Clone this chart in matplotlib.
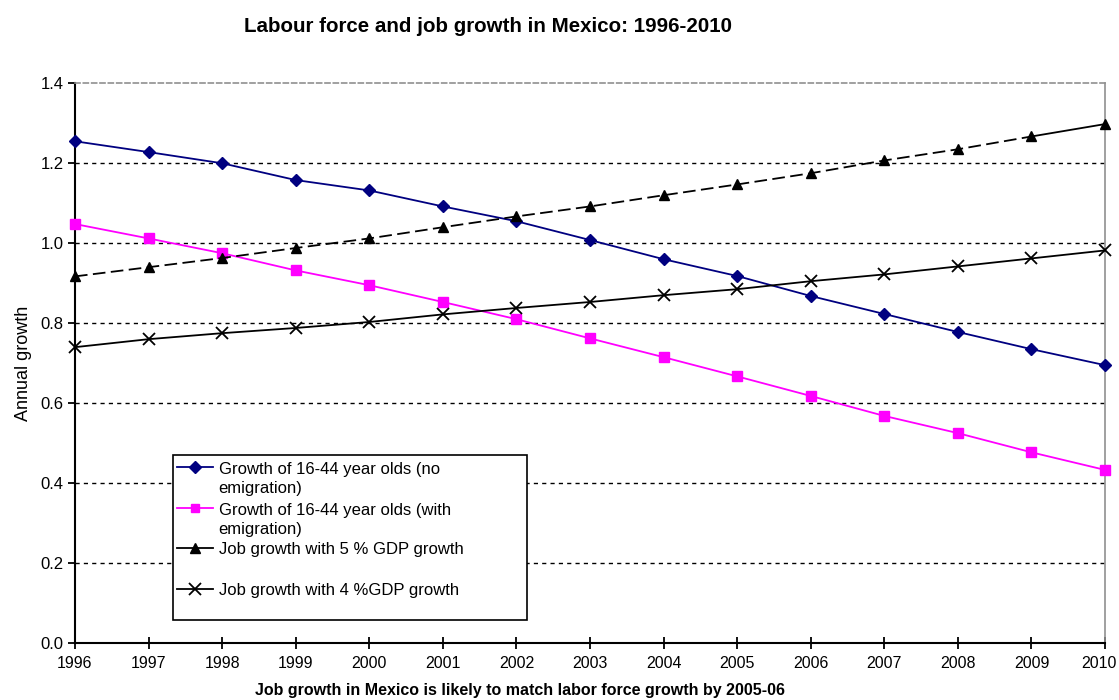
import matplotlib.pyplot as plt
import matplotlib.transforms as mtransforms
from matplotlib.lines import Line2D
from matplotlib.patches import Rectangle

plt.rcParams['font.family'] = ['Liberation Sans', 'DejaVu Sans']

years = list(range(1996, 2011))

# Growth of 16-44 year olds (no emigration)
no_emig = [1.255, 1.228, 1.200, 1.158, 1.132, 1.092, 1.055, 1.008,
           0.960, 0.918, 0.868, 0.823, 0.778, 0.735, 0.695]
# Growth of 16-44 year olds (with emigration)
with_emig = [1.048, 1.012, 0.975, 0.932, 0.895, 0.853, 0.810, 0.762,
             0.715, 0.667, 0.618, 0.568, 0.525, 0.477, 0.433]
# Job growth with 5 % GDP growth
gdp5 = [0.917, 0.940, 0.963, 0.988, 1.012, 1.040, 1.067, 1.092,
        1.120, 1.147, 1.175, 1.207, 1.235, 1.267, 1.298]
# Job growth with 4 % GDP growth
gdp4 = [0.740, 0.760, 0.775, 0.788, 0.803, 0.822, 0.838, 0.853,
        0.870, 0.885, 0.905, 0.922, 0.942, 0.962, 0.982]

labels = ["Growth of 16-44 year olds (no\nemigration)",
          "Growth of 16-44 year olds (with\nemigration)",
          "Job growth with 5 % GDP growth",
          "Job growth with 4 %GDP growth"]

navy = "#000080"
magenta = "#FF00FF"

fig = plt.figure(figsize=(11.19, 7), dpi=100)
ax = fig.add_axes([0.067, 0.0814, 0.9205, 0.7996])

for y in [0.2, 0.4, 0.6, 0.8, 1.0, 1.2]:
    ax.axhline(y, color="black", lw=1, ls=(0, (3, 3)), zorder=1)

ax.plot(years, no_emig, color=navy, lw=1.3, marker="D", ms=6.5, zorder=3,
        clip_on=False)
ax.plot(years, with_emig, color=magenta, lw=1.3, marker="s", ms=6.5, zorder=3,
        clip_on=False)
ax.plot(years[:-1], gdp5[:-1], color="black", lw=1.3, ls=(0, (7, 3)), zorder=3)
ax.plot(years[-2:], gdp5[-2:], color="black", lw=1.3, zorder=3)
ax.plot(years, gdp5, color="black", lw=0, marker="^", ms=7.5, zorder=4,
        clip_on=False)
ax.plot(years, gdp4, color="black", lw=1.3, marker="x", ms=8, mew=1.3,
        zorder=3, clip_on=False)

ax.set_xlim(1996, 2010)
ax.set_ylim(0, 1.4)
ax.set_xticks(years)
ax.set_yticks([0.0, 0.2, 0.4, 0.6, 0.8, 1.0, 1.2, 1.4])
ax.set_yticklabels([f"{v:.1f}" for v in [0.0, 0.2, 0.4, 0.6, 0.8, 1.0, 1.2, 1.4]])
ax.tick_params(axis="x", direction="inout", length=9, width=1.3, labelsize=11.5, pad=5)
ax.tick_params(axis="y", direction="out", length=5, width=1.3, labelsize=12, pad=3)

# last year label sits a little left so it stays inside the image
last = ax.get_xticklabels()[-1]
last.set_transform(last.get_transform() +
                   mtransforms.ScaledTranslation(-6 / 100, 0, fig.dpi_scale_trans))

ax.spines["left"].set_linewidth(1.5)
ax.spines["bottom"].set_linewidth(1.5)
ax.spines["right"].set_color("#909090")
ax.spines["right"].set_linewidth(1.2)
ax.spines["top"].set_color("#909090")
ax.spines["top"].set_linewidth(1.2)
ax.spines["top"].set_linestyle((0, (3, 2)))

ax.set_ylabel("Annual growth", fontsize=13, labelpad=6)
ax.set_xlabel("Job growth in Mexico is likely to match labor force growth by 2005-06",
              fontsize=11.5, fontweight="bold", labelpad=9)
ax.xaxis.set_label_coords(0.432, -0.072)
fig.suptitle("Labour force and job growth in Mexico: 1996-2010",
             fontsize=14.8, fontweight="bold", x=0.436, y=0.975)

# legend box drawn like the original (markers aligned with first text line)
ax.add_patch(Rectangle((0.0951, 0.041), 0.3437, 0.2946, transform=ax.transAxes,
                       facecolor="white", edgecolor="black", lw=1.2, zorder=5))
styles = [dict(color=navy, marker="D", ms=6),
          dict(color=magenta, marker="s", ms=6),
          dict(color="black", marker="^", ms=7),
          dict(color="black", marker="x", ms=8, mew=1.3)]
rows = [0.3143, 0.241, 0.1696, 0.0964]
for lab, st, yr in zip(labels, styles, rows):
    ax.add_line(Line2D([0.099, 0.134], [yr, yr], transform=ax.transAxes,
                       lw=1.3, zorder=6, color=st["color"]))
    ax.add_line(Line2D([0.1165], [yr], transform=ax.transAxes, lw=0, zorder=7, **st))
    ax.text(0.1395, yr + 0.01, lab, transform=ax.transAxes, fontsize=12,
            va="top", ha="left", linespacing=1.35, zorder=7)

fig.savefig("out.png", dpi=100)
